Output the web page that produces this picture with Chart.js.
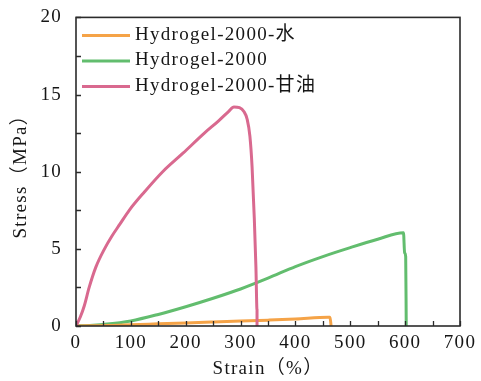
<!DOCTYPE html>
<html>
<head>
<meta charset="utf-8">
<script src="https://cdn.jsdelivr.net/npm/chart.js@4"></script>
<style>
  html, body { margin: 0; padding: 0; background: #fff; }
  #wrap { width: 481px; height: 381px; }
</style>
</head>
<body>
<div id="wrap"><canvas id="stressStrain"></canvas></div>
<script>
const ctx = document.getElementById("stressStrain").getContext("2d");

// series names (legend order)
const seriesNames = ["Hydrogel-2000-水", "Hydrogel-2000", "Hydrogel-2000-甘油"];

// Hydrogel-2000-水
const waterStrain = [0, 60, 100, 150, 200, 250, 300, 350, 400, 460, 463, 465];
const waterStress = [0, 0.03, 0.08, 0.14, 0.2, 0.26, 0.32, 0.38, 0.45, 0.56, 0.56, 0];

// Hydrogel-2000
const plainStrain = [0, 25, 50, 100, 150, 200, 250, 300, 350, 400, 450, 500, 550, 597, 599, 601, 602];
const plainStress = [0, 0.03, 0.1, 0.33, 0.75, 1.25, 1.8, 2.4, 3.1, 3.85, 4.5, 5.08, 5.62, 6.05, 4.75, 4.5, 0];

// Hydrogel-2000-甘油
const glycStrain = [0, 8, 15, 24, 36, 52, 65, 80, 97, 125, 158, 195, 234, 260, 278, 288, 298, 306, 312, 317, 321, 325, 328, 330, 330];
const glycStress = [0, 0.6, 1.3, 2.5, 3.8, 5.0, 5.8, 6.6, 7.5, 8.7, 10.0, 11.2, 12.5, 13.3, 13.9, 14.2, 14.15, 13.9, 13.4, 12.3, 10.3, 7.0, 3.8, 1.0, 0];

// axis ticks
const xMax = 700, xStep = 50, xLabelEvery = 100;
const yMax = 20, yStep = 2.5, yLabelEvery = 5;

const colors = ["#f5a347", "#62bd6e", "#d9698f"];

function pts(xs, ys) {
  return xs.map((x, i) => ({ x: x, y: ys[i] }));
}

const fontFamily = "'Liberation Serif', 'Noto Sans CJK SC', serif";
const textColor = "#161616";

// the source figure's text is slightly spaced out
const spacing = {
  id: "spacing",
  beforeDraw(chart) {
    chart.ctx.letterSpacing = "1.3px";
  },
};

// legend inside the top-left corner of the plot
const innerLegend = {
  id: "innerLegend",
  afterDraw(chart) {
    const c = chart.ctx;
    const a = chart.chartArea;
    c.save();
    c.font = "19px " + fontFamily;
    c.fillStyle = textColor;
    c.textBaseline = "alphabetic";
    c.textAlign = "left";
    chart.data.datasets.forEach((d, i) => {
      const base = a.top + 22.5 + i * 25.5;
      c.strokeStyle = d.borderColor;
      c.lineWidth = 3;
      c.beginPath();
      c.moveTo(a.left + 6, base - 4.5);
      c.lineTo(a.left + 54, base - 4.5);
      c.stroke();
      c.fillText(d.label, a.left + 59, base);
    });
    c.restore();
  },
};

// ticks drawn inside the plot + closed frame
const frameAndTicks = {
  id: "frameAndTicks",
  afterDraw(chart) {
    const c = chart.ctx;
    const a = chart.chartArea;
    const xs = chart.scales.x, ys = chart.scales.y;
    c.save();
    c.strokeStyle = "#2b2b2b";
    c.lineWidth = 1.3;
    c.beginPath();
    xs.ticks.forEach((t) => {
      const px = Math.round(xs.getPixelForValue(t.value)) + 0.5;
      c.moveTo(px, a.bottom);
      c.lineTo(px, a.bottom - 5);
    });
    ys.ticks.forEach((t) => {
      const py = Math.round(ys.getPixelForValue(t.value)) + 0.5;
      c.moveTo(a.left, py);
      c.lineTo(a.left + 5, py);
    });
    c.stroke();
    c.lineWidth = 1.6;
    c.strokeRect(a.left, a.top, a.right - a.left, a.bottom - a.top);
    c.restore();
  },
};

new Chart(ctx, {
  type: "scatter",
  data: {
    datasets: [
      { label: seriesNames[0], data: pts(waterStrain, waterStress), order: 1 },
      { label: seriesNames[1], data: pts(plainStrain, plainStress), order: 2 },
      { label: seriesNames[2], data: pts(glycStrain, glycStress), order: 0 },
    ].map((d, i) => Object.assign(d, {
      showLine: true,
      cubicInterpolationMode: "monotone",
      borderColor: colors[i],
      backgroundColor: colors[i],
      borderWidth: 3,
      pointRadius: 0,
      pointHoverRadius: 0,
    })),
  },
  plugins: [spacing, frameAndTicks, innerLegend],
  options: {
    responsive: true,
    maintainAspectRatio: false,
    animation: false,
    layout: { padding: { top: 17, right: 21, left: 0, bottom: 0 } },
    plugins: {
      tooltip: { enabled: false },
      legend: { display: false },
    },
    scales: {
      x: {
        type: "linear",
        min: 0,
        max: xMax,
        border: { display: false },
        grid: { display: false },
        ticks: {
          stepSize: xStep,
          autoSkip: false,
          maxRotation: 0,
          padding: -2,
          color: textColor,
          font: { family: fontFamily, size: 19 },
          callback: (v) => (v % xLabelEvery === 0 ? v : ""),
        },
        title: {
          display: true,
          text: "Strain（%）",
          color: textColor,
          font: { family: fontFamily, size: 19 },
          padding: { top: 0, bottom: 1 },
        },
        afterFit: (s) => { s.height = 55; },
      },
      y: {
        min: 0,
        max: yMax,
        border: { display: false },
        grid: { display: false },
        ticks: {
          stepSize: yStep,
          autoSkip: false,
          padding: 6,
          color: textColor,
          font: { family: fontFamily, size: 19 },
          callback: (v) => (v % yLabelEvery === 0 ? v : ""),
        },
        title: {
          display: true,
          text: "Stress（MPa）",
          color: textColor,
          font: { family: fontFamily, size: 19 },
          padding: { top: 10, bottom: 0 },
        },
        afterFit: (s) => { s.width = 76; },
      },
    },
  },
});
</script>
</body>
</html>
